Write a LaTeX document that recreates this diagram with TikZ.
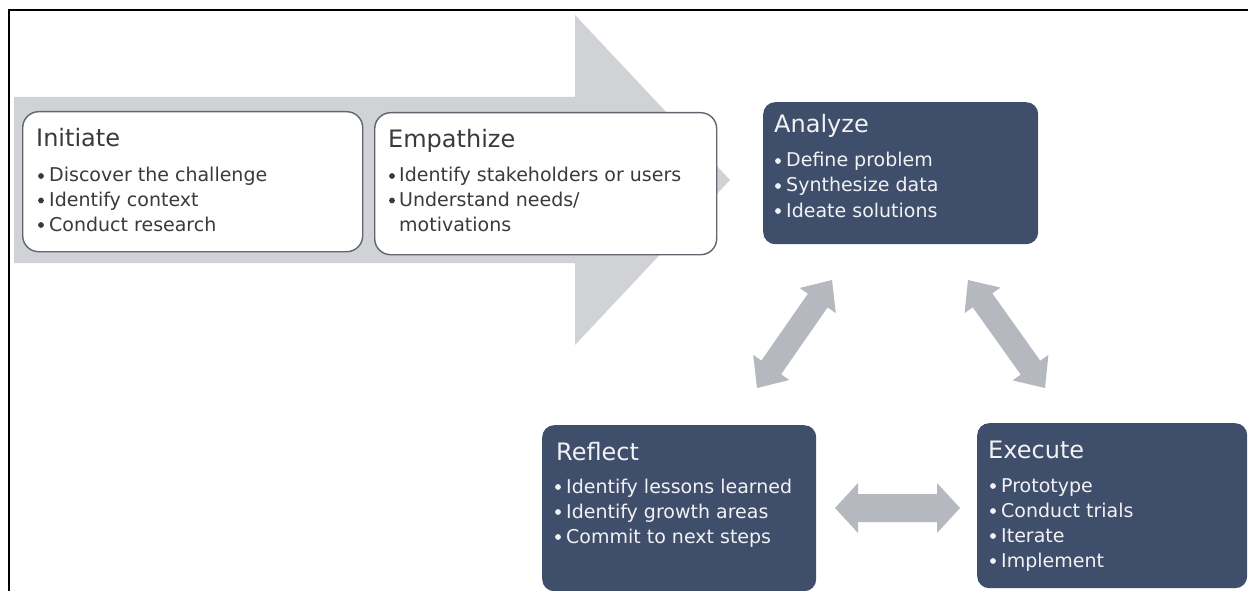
\documentclass[tikz,border=0pt]{standalone}
\usepackage{fontspec}
\setmainfont{DejaVu Sans}
\usetikzlibrary{calc}
\definecolor{navy}{RGB}{63,78,106}
\definecolor{biggray}{RGB}{208,210,214}
\definecolor{arrgray}{RGB}{181,184,191}
\definecolor{boxline}{RGB}{96,101,110}
\definecolor{lighttxt}{RGB}{58,58,60}
\definecolor{darktxt}{RGB}{242,242,244}
\newcommand\bitem[6]{%
  \fill[#6] (#2,#4-6) circle (2.9pt);
  \node[btext, text=#6, anchor=base west] (#1) at (#3,#4) {#5};}
\newcommand\fatarrow[5]{% from, to, head length, head half width, shaft half width
  \fill[arrgray]
  (#1) -- ($(#1)!#3!(#2)!#4!90:(#2)$) -- ($(#1)!#3!(#2)!#5!90:(#2)$)
  -- ($(#2)!#3!(#1)!#5!-90:(#1)$) -- ($(#2)!#3!(#1)!#4!-90:(#1)$)
  -- (#2) -- ($(#2)!#3!(#1)!#4!90:(#1)$) -- ($(#2)!#3!(#1)!#5!90:(#1)$)
  -- ($(#1)!#3!(#2)!#5!-90:(#2)$) -- ($(#1)!#3!(#2)!#4!-90:(#2)$) -- cycle;}
\begin{document}
\begin{tikzpicture}[x=1pt,y=-1pt,
  wbox/.style={draw=boxline, line width=1.4pt, fill=white, rounded corners=16pt, anchor=north west, inner sep=0pt},
  dbox/.style={fill=navy, rounded corners=12pt, anchor=north west, inner sep=0pt},
  ttext/.style={font=\fontsize{24}{28}\selectfont, inner sep=0pt, anchor=base west},
  btext/.style={font=\fontsize{19}{23}\selectfont, inner sep=0pt}]
\useasboundingbox (0,0) rectangle (1248,591);
% big process arrow
\fill[biggray] (14,97) -- (575,97) -- (575,15) -- (730,180) -- (575,345) -- (575,263) -- (14,263) -- cycle;
% frame
\draw[line width=1.8pt] (9,591) -- (9,10) -- (1248,10);
% boxes
\node[wbox, minimum width=340pt, minimum height=140pt] (init) at (22,111) {};
\node[wbox, minimum width=342pt, minimum height=142pt] (emp) at (374,112) {};
\node[dbox, minimum width=275pt, minimum height=142pt] (ana) at (763,102) {};
\node[dbox, minimum width=274pt, minimum height=166pt] (ref) at (542,425) {};
\node[dbox, minimum width=270pt, minimum height=165pt] (exe) at (977,423) {};
% Initiate
\node[ttext, text=lighttxt] (initT) at (36,147) {Initiate};
\bitem{i1}{41}{49}{182}{Discover the challenge}{lighttxt}
\bitem{i2}{41}{49}{206.5}{Identify context}{lighttxt}
\bitem{i3}{41}{49}{231}{Conduct research}{lighttxt}
% Empathize
\node[ttext, text=lighttxt] (empT) at (388,148) {Empathize};
\bitem{e1}{392}{399}{182}{Identify stakeholders or users}{lighttxt}
\bitem{e2}{392}{399}{206.5}{Understand needs/}{lighttxt}
\node[btext, text=lighttxt, anchor=base west] (e3) at (399,231) {motivations};
% Analyze
\node[ttext, text=darktxt] (anaT) at (774,133) {Analyze};
\bitem{a1}{778}{786}{167}{Define problem}{darktxt}
\bitem{a2}{778}{786}{192}{Synthesize data}{darktxt}
\bitem{a3}{778}{786}{217}{Ideate solutions}{darktxt}
% Reflect
\node[ttext, text=darktxt] (refT) at (556,460) {Reflect};
\bitem{r1}{558}{566}{493}{Identify lessons learned}{darktxt}
\bitem{r2}{558}{566}{518}{Identify growth areas}{darktxt}
\bitem{r3}{558}{566}{543}{Commit to next steps}{darktxt}
% Execute
\node[ttext, text=darktxt] (exeT) at (988,458) {Execute};
\bitem{x1}{993}{1001}{492}{Prototype}{darktxt}
\bitem{x2}{993}{1001}{517}{Conduct trials}{darktxt}
\bitem{x3}{993}{1001}{542}{Iterate}{darktxt}
\bitem{x4}{993}{1001}{567}{Implement}{darktxt}
% connector arrows
\coordinate (la1) at (757,388);
\coordinate (la2) at (832,280);
\coordinate (ra1) at (968,280);
\coordinate (ra2) at (1045,388);
\coordinate (ha1) at (835,508);
\coordinate (ha2) at (960,508);
\fatarrow{la1}{la2}{25pt}{22pt}{12pt}
\fatarrow{ra1}{ra2}{25pt}{22pt}{12pt}
\fatarrow{ha1}{ha2}{23pt}{25pt}{14pt}
\end{tikzpicture}
\end{document}
